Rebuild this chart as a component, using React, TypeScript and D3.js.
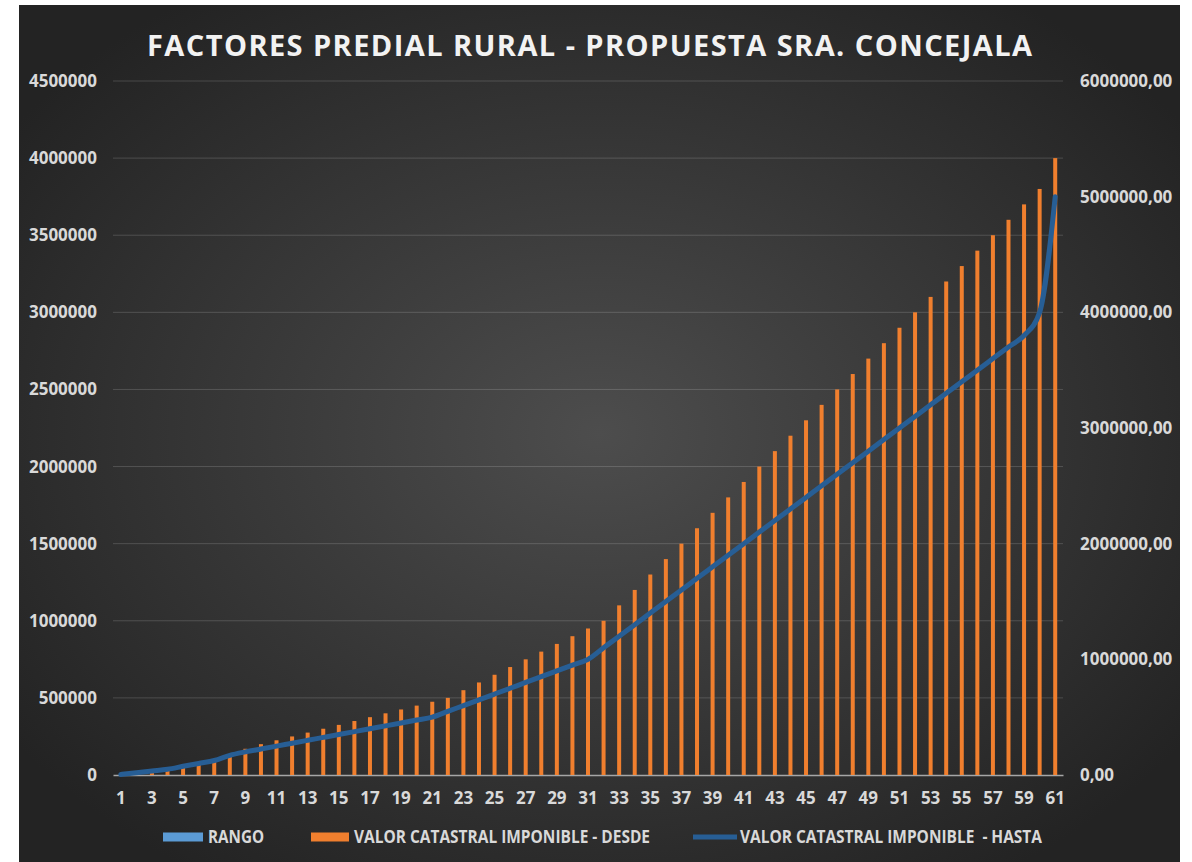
import { useRef, useEffect } from "react";
import * as d3 from "d3";

// categories (row numbers) and the three series
const categories = [
  1, 2, 3, 4, 5, 6, 7, 8, 9, 10, 11, 12, 13, 14, 15, 16, 17, 18, 19, 20, 21,
  22, 23, 24, 25, 26, 27, 28, 29, 30, 31, 32, 33, 34, 35, 36, 37, 38, 39, 40,
  41, 42, 43, 44, 45, 46, 47, 48, 49, 50, 51, 52, 53, 54, 55, 56, 57, 58, 59,
  60, 61,
];
const rango = categories.slice();
const desde = [
  0, 5000, 20000, 35000, 50000, 75000, 100000, 125000, 170000, 200000, 225000,
  250000, 275000, 300000, 325000, 350000, 375000, 400000, 425000, 450000,
  475000, 500000, 550000, 600000, 650000, 700000, 750000, 800000, 850000,
  900000, 950000, 1000000, 1100000, 1200000, 1300000, 1400000, 1500000,
  1600000, 1700000, 1800000, 1900000, 2000000, 2100000, 2200000, 2300000,
  2400000, 2500000, 2600000, 2700000, 2800000, 2900000, 3000000, 3100000,
  3200000, 3300000, 3400000, 3500000, 3600000, 3700000, 3800000, 4000000,
];
const hasta = [
  5000, 20000, 35000, 50000, 75000, 100000, 125000, 170000, 200000, 225000,
  250000, 275000, 300000, 325000, 350000, 375000, 400000, 425000, 450000,
  475000, 500000, 550000, 600000, 650000, 700000, 750000, 800000, 850000,
  900000, 950000, 1000000, 1100000, 1200000, 1300000, 1400000, 1500000,
  1600000, 1700000, 1800000, 1900000, 2000000, 2100000, 2200000, 2300000,
  2400000, 2500000, 2600000, 2700000, 2800000, 2900000, 3000000, 3100000,
  3200000, 3300000, 3400000, 3500000, 3600000, 3700000, 3800000, 4000000,
  5000000,
];
const leftTicks = [0, 500000, 1000000, 1500000, 2000000, 2500000, 3000000, 3500000, 4000000, 4500000];
const rightTicks = [0, 1000000, 2000000, 3000000, 4000000, 5000000, 6000000];
const title = "FACTORES PREDIAL RURAL - PROPUESTA SRA. CONCEJALA";
const legendNames = [
  "RANGO",
  "VALOR CATASTRAL IMPONIBLE - DESDE",
  "VALOR CATASTRAL IMPONIBLE  - HASTA",
];

const FONT = "'Open Sans', 'DejaVu Sans', sans-serif";

export default function App() {
  const svgRef = useRef<SVGSVGElement>(null);

  useEffect(() => {
    const svg = d3.select(svgRef.current);
    svg.selectAll("*").remove();

    const left = 113, right = 1063, top = 81, bottom = 775;

    // background
    const defs = svg.append("defs");
    const grad = defs
      .append("radialGradient")
      .attr("id", "bg")
      .attr("cx", "50%")
      .attr("cy", "50%")
      .attr("r", "62%");
    grad.append("stop").attr("offset", "0%").attr("stop-color", "#4d4d4d");
    grad.append("stop").attr("offset", "100%").attr("stop-color", "#232323");

    svg.append("rect").attr("width", 1192).attr("height", 862).attr("fill", "#fff");
    svg
      .append("rect")
      .attr("x", 19)
      .attr("y", 5)
      .attr("width", 1161)
      .attr("height", 857)
      .attr("fill", "url(#bg)");

    // scales
    const x = d3.scaleBand<number>().domain(categories).range([left, right]);
    const yL = d3.scaleLinear().domain([0, 4500000]).range([bottom, top]);
    const yR = d3.scaleLinear().domain([0, 6000000]).range([bottom, top]);

    // gridlines
    svg
      .append("g")
      .selectAll("line")
      .data(leftTicks.filter((d) => d > 0))
      .join("line")
      .attr("x1", left)
      .attr("x2", right)
      .attr("y1", (d) => yL(d))
      .attr("y2", (d) => yL(d))
      .attr("stroke", "rgba(255,255,255,0.16)")
      .attr("stroke-width", 1);

    // axes
    const axisLeftG = svg
      .append("g")
      .attr("transform", `translate(${left},0)`)
      .call(
        d3
          .axisLeft(yL)
          .tickValues(leftTicks)
          .tickSize(0)
          .tickPadding(16)
          .tickFormat(d3.format("d") as any)
      );
    const axisRightG = svg
      .append("g")
      .attr("transform", `translate(${right},0)`)
      .call(
        d3
          .axisRight(yR)
          .tickValues(rightTicks)
          .tickSize(0)
          .tickPadding(17)
          .tickFormat((d: any) => (+d).toFixed(2).replace(".", ","))
      );
    const axisBottomG = svg
      .append("g")
      .attr("transform", `translate(0,${bottom})`)
      .call(
        d3
          .axisBottom(x)
          .tickValues(categories.filter((d) => d % 2 === 1))
          .tickSize(0)
          .tickPadding(17)
      );
    axisLeftG.select(".domain").remove();
    axisRightG.select(".domain").remove();
    axisBottomG.select(".domain").attr("stroke", "#a6a6a6").attr("stroke-width", 1.5);
    [axisLeftG, axisRightG, axisBottomG].forEach((g) =>
      g
        .selectAll("text")
        .attr("fill", "#d9d9d9")
        .style("font-family", FONT)
        .style("font-weight", "700")
        .style("font-size", "17px")
    );

    // bars
    const barW = 4;
    svg
      .append("g")
      .selectAll("rect.rango")
      .data(rango)
      .join("rect")
      .attr("class", "rango")
      .attr("x", (d, i) => x(categories[i])! + x.bandwidth() / 2 - barW)
      .attr("y", (d) => yL(d))
      .attr("width", barW)
      .attr("height", (d) => bottom - yL(d))
      .attr("fill", "#5b9bd5");
    svg
      .append("g")
      .selectAll("rect.desde")
      .data(desde)
      .join("rect")
      .attr("class", "desde")
      .attr("x", (d, i) => x(categories[i])! + x.bandwidth() / 2 - barW / 2)
      .attr("y", (d) => yL(d))
      .attr("width", barW)
      .attr("height", (d) => bottom - yL(d))
      .attr("fill", "#f07f2e");

    // line
    const line = d3
      .line<number>()
      .x((d, i) => x(categories[i])! + x.bandwidth() / 2)
      .y((d) => yR(d))
      .curve(d3.curveMonotoneX);
    svg
      .append("path")
      .datum(hasta)
      .attr("d", line)
      .attr("fill", "none")
      .attr("stroke", "#275e95")
      .attr("stroke-width", 5)
      .attr("stroke-linejoin", "round")
      .attr("stroke-linecap", "round");

    // title
    svg
      .append("text")
      .attr("x", 147)
      .attr("y", 56)
      .attr("textLength", 885)
      .attr("lengthAdjust", "spacing")
      .attr("fill", "#f2f2f2")
      .style("font-family", FONT)
      .style("font-weight", "700")
      .style("font-size", "29px")
      .text(title);

    // legend
    const ly = 837;
    const lg = svg.append("g");
    lg.append("rect").attr("x", 163).attr("y", ly - 4.5).attr("width", 40).attr("height", 9).attr("fill", "#5b9bd5");
    lg.append("rect").attr("x", 311).attr("y", ly - 4.5).attr("width", 38).attr("height", 9).attr("fill", "#f07f2e");
    lg.append("line")
      .attr("x1", 693)
      .attr("x2", 737)
      .attr("y1", ly)
      .attr("y2", ly)
      .attr("stroke", "#275e95")
      .attr("stroke-width", 5);
    const lx = [208, 354, 740];
    const lw = [56, 296, 302];
    lg.selectAll("text")
      .data(legendNames)
      .join("text")
      .attr("x", (d, i) => lx[i])
      .attr("y", ly)
      .attr("dy", "0.36em")
      .attr("textLength", (d, i) => lw[i])
      .attr("lengthAdjust", "spacingAndGlyphs")
      .attr("fill", "#d9d9d9")
      .style("white-space", "pre")
      .style("font-family", FONT)
      .style("font-weight", "700")
      .style("font-size", "17px")
      .text((d) => d);
  }, []);

  return (
    <svg
      ref={svgRef}
      width={1192}
      height={862}
      style={{ position: "absolute", left: 0, top: 0 }}
    />
  );
}
